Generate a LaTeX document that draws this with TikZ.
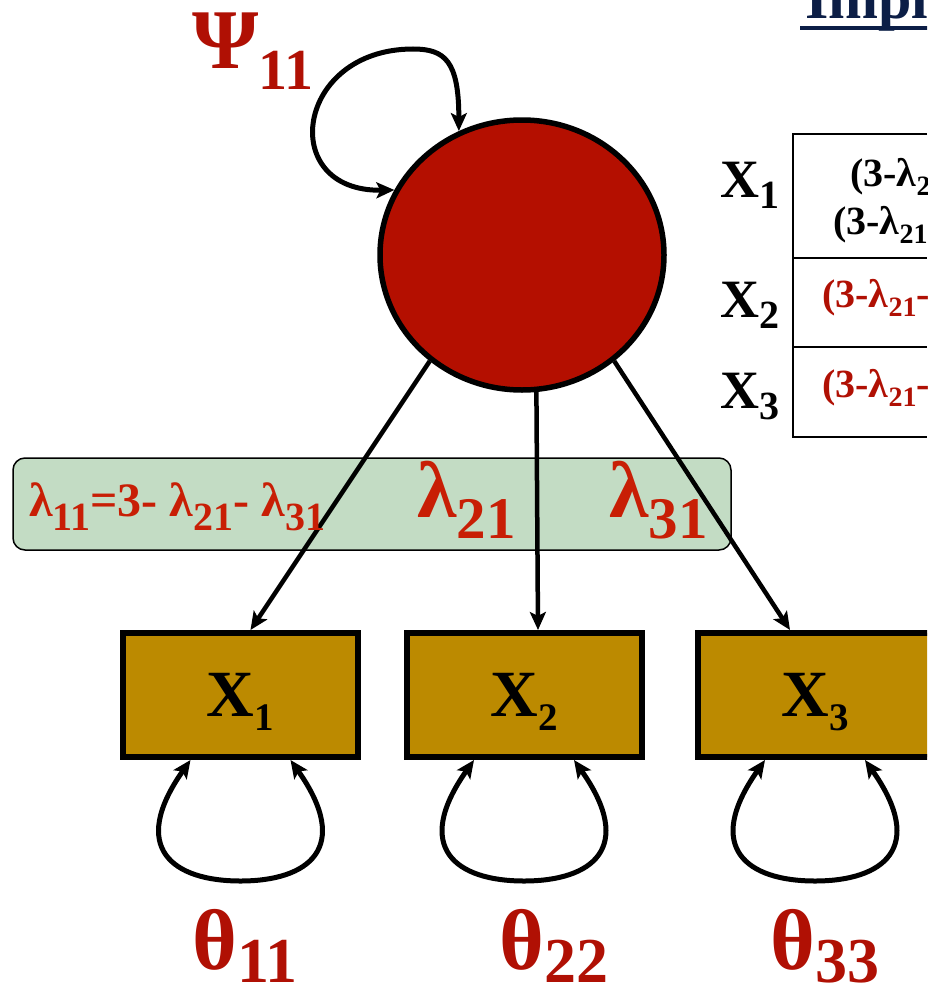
\documentclass[tikz,border=0pt]{standalone}
\usepackage{fontspec}
\setmainfont{Liberation Serif}
\usepackage{graphicx}
\usetikzlibrary{arrows.meta,shapes.geometric}

\definecolor{latred}{RGB}{180,15,0}
\definecolor{parred}{RGB}{176,16,4}
\definecolor{lamred}{RGB}{200,30,5}
\definecolor{boxgold}{RGB}{188,138,0}
\definecolor{lamgreen}{RGB}{195,220,196}
\definecolor{titlenavy}{RGB}{12,30,70}

\newcommand{\fsz}[1]{\fontsize{#1}{#1}\selectfont}
\newcommand{\lsub}[3]{{\fsz{#1}\raisebox{-#2pt}{#3}}}

\begin{document}
\begin{tikzpicture}[x=1pt,y=-1pt,>={Stealth[length=18pt,width=16pt,inset=4pt]},
  line width=4.5pt,font=\bfseries,
  txt/.style={anchor=base west,inner sep=0pt},
  obs/.style={draw,line width=6pt,fill=boxgold,minimum width=235pt,
    minimum height=124pt,text depth=0pt,inner sep=0pt},
  lbox/.style={draw,line width=1.5pt,fill=lamgreen,rounded corners=12pt,
    minimum width=718pt,minimum height=92pt}]
  \useasboundingbox (0,0) rectangle (927,990);
  \clip (0,0) rectangle (927,990);

  % 标题
  \node[txt,text=titlenavy] (ttl) at (803,19) {\fsz{60}Implied Covariance Matrix};
  \draw[titlenavy,line width=4pt] ([xshift=-3pt,yshift=-9pt]ttl.base west) -- ([yshift=-9pt]ttl.base east);

  % 载荷框
  \node[lbox] (lam) at (372,504) {};

  % 潜变量与观测变量
  \node[obs] (x1) at (240.5,695) {\fsz{66}X\lsub{39}{14}{1}};
  \node[obs] (x2) at (524,695) {\fsz{66}X\lsub{39}{14}{2}};
  \node[obs] (x3) at (815,695) {\fsz{66}X\lsub{39}{14}{3}};
  \node[ellipse,draw,line width=5.5pt,fill=latred,minimum width=284pt,
    minimum height=270pt] (F) at (522,255) {};

  % 因子载荷箭头
  \draw[->] (F.229) -- ([xshift=10pt]x1.north);
  \draw[->] (F.276) -- ([xshift=14pt]x2.north);
  \draw[->] (F.311) -- ([xshift=-25pt]x3.north);

  % 方差
  \coordinate (psitop) at (413,49);
  \draw[<->,line width=5pt] (F.117) .. controls +(0,-70) and +(32,0) .. (psitop)
    .. controls +(-118,0) and +(-118,2) .. (F.153);
  \foreach \b in {x1,x2,x3}
    \draw[<->,line width=5pt] ([xshift=-50pt]\b.south) .. controls +(-62,88) and +(-68,0) .. ++(50,121)
      .. controls +(68,0) and +(62,88) .. ([xshift=50pt]\b.south);

  % 参数标注
  \node[txt,text=parred] (psi) at (190,68) {\fsz{85}Ψ\lsub{58}{21}{11}};
  \node[txt,text=lamred] (l11) at (27,516) {\fsz{48}λ\lsub{40}{14}{11}=3- λ\lsub{40}{14}{21}- λ\lsub{40}{14}{31}};
  \node[txt,text=lamred] (l21) at (415,517) {\fsz{80}λ\lsub{59}{21}{21}};
  \node[txt,text=lamred] (l31) at (607,517) {\fsz{80}λ\lsub{59}{21}{31}};
  \node[txt,text=parred] (t11) at (190,969) {\fsz{86}θ\lsub{64}{13}{11}};
  \node[txt,text=parred] (t22) at (497,969) {\fsz{86}θ\lsub{64}{13}{22}};
  \node[txt,text=parred] (t33) at (768,969) {\fsz{86}θ\lsub{64}{13}{33}};

  % 隐含协方差表
  \draw[line width=2.5pt] (927,134) -- (793,134) -- (793,437) -- (927,437);
  \draw[line width=2.5pt] (793,258) -- (927,258);
  \draw[line width=2.5pt] (793,347) -- (927,347);
  \node[txt] (r1) at (718,197) {\fsz{54}X\lsub{40}{11}{1}};
  \node[txt] (r2) at (718,317) {\fsz{54}X\lsub{40}{11}{2}};
  \node[txt] (r3) at (718,408) {\fsz{54}X\lsub{40}{11}{3}};
  \node[txt] (c11a) at (848,186) {\fsz{40}(3-λ\lsub{28}{9}{21}-λ\lsub{28}{9}{31})Ψ\lsub{28}{9}{11}};
  \node[txt] (c11b) at (831,234) {\fsz{40}(3-λ\lsub{28}{9}{21}-λ\lsub{28}{9}{31})+θ\lsub{28}{9}{11}};
  \node[txt,text=parred] (c21) at (820,307) {\fsz{40}(3-λ\lsub{28}{9}{21}-λ\lsub{28}{9}{31})Ψ\lsub{28}{9}{11}λ\lsub{28}{9}{21}};
  \node[txt,text=parred] (c31) at (820,397) {\fsz{40}(3-λ\lsub{28}{9}{21}-λ\lsub{28}{9}{31})Ψ\lsub{28}{9}{11}λ\lsub{28}{9}{31}};
\end{tikzpicture}
\end{document}
